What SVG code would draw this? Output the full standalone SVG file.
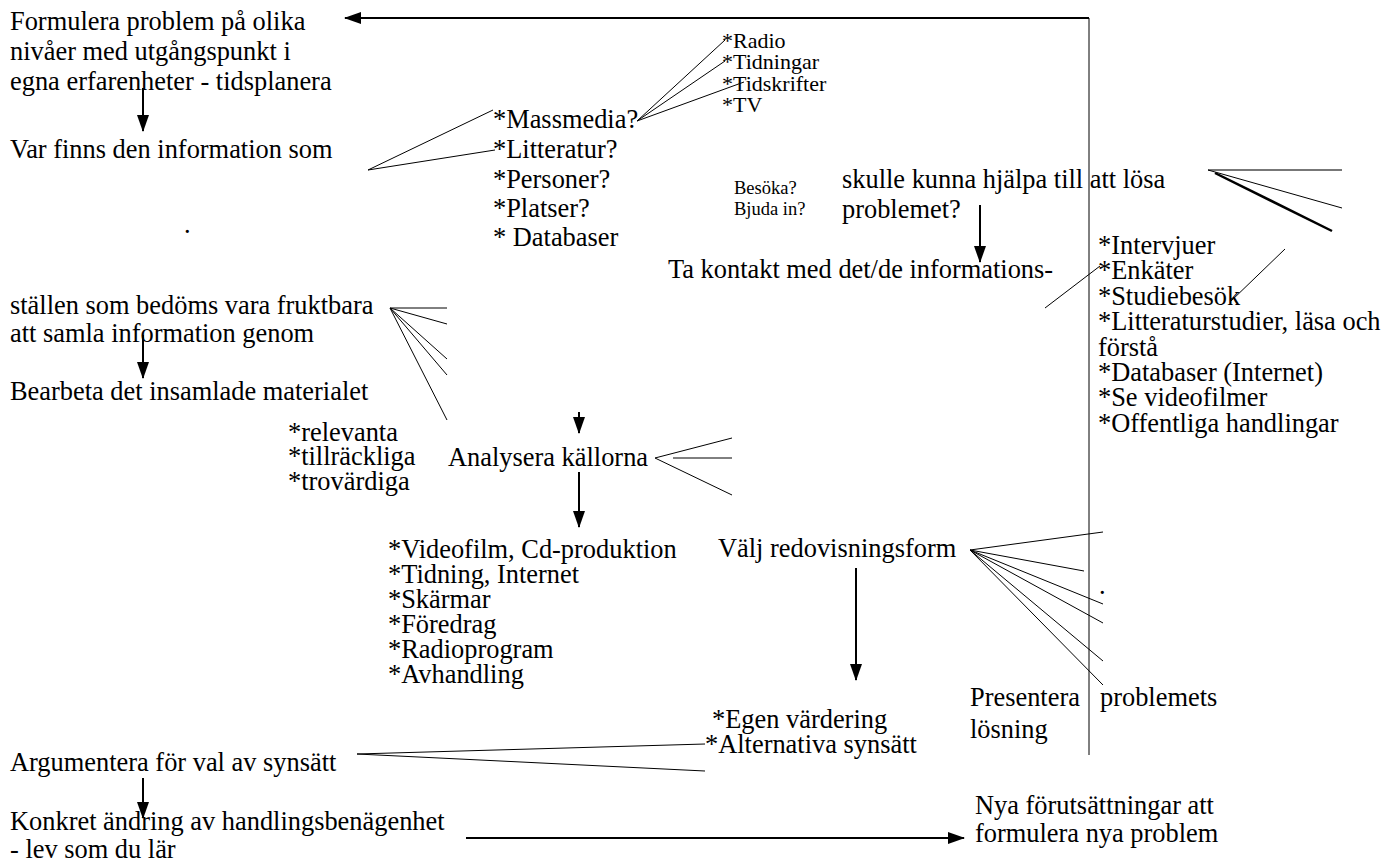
<svg xmlns="http://www.w3.org/2000/svg" width="1388" height="864" viewBox="0 0 1388 864" font-family="'Liberation Serif', 'Times New Roman', serif">
<style>
text{font-family:"Liberation Serif","Times New Roman",serif;fill:#000}
.m{font-size:26.4px}
.s{font-size:22px}
.xs{font-size:18.5px}
.ln{stroke:#000;stroke-width:1;fill:none}
.ar{stroke:#000;stroke-width:2;fill:none}
.thk{stroke:#000;stroke-width:2.5;fill:none}
.gr{stroke:#777;stroke-width:2;fill:none}
</style>
<defs>
<marker id="ah" viewBox="0 0 17 12" refX="16" refY="6" markerWidth="17" markerHeight="12" orient="auto" markerUnits="userSpaceOnUse"><path d="M0,0 L17,6 L0,12 z" fill="#000"/></marker>
</defs>
<rect width="1388" height="864" fill="#fff"/>
<g id="connectors">
<path class="ar" d="M1089,18 H345" marker-end="url(#ah)"/>
<path class="ln" d="M1089,18 V755"/>
<path class="ar" d="M143,88 V131" marker-end="url(#ah)"/>
<path class="ln" d="M368,170 L493,110 M368,170 L495,150"/>
<path class="ln" d="M637,121 L725,40 M637,121 L725,61 M637,121 L744,82"/>
<path class="ar" d="M980,205 V262" marker-end="url(#ah)"/>
<path class="ln" d="M1045,308 L1100,266 M1230,302 L1285,249"/>
<path class="gr" d="M1208,170 H1342"/>
<path class="ln" d="M1208,170 L1342,208"/>
<path class="thk" d="M1215,173 L1332,231"/>
<path class="ar" d="M143,335 V378" marker-end="url(#ah)"/>
<path class="ln" d="M390,308 L447,308 M390,308 L447,324 M390,308 L447,359 M390,308 L447,375 M390,308 L447,420"/>
<path class="ar" d="M579,412 V433" marker-end="url(#ah)"/>
<path class="ar" d="M579,472 V527" marker-end="url(#ah)"/>
<path class="ln" d="M655,458 L732,438 M673,458 H732 M655,458 L732,495"/>
<path class="ln" d="M970,550 L1103,532 M970,550 L1084,571 M970,550 L1103,604 M970,550 L1103,623 M970,550 L1103,661 M970,550 L1103,685"/>
<path class="ar" d="M856,568 V680" marker-end="url(#ah)"/>
<path class="ln" d="M357,754 L705,744 M357,754 L705,771"/>
<path class="ar" d="M143,778 V818" marker-end="url(#ah)"/>
<path class="ar" d="M466,838 H964" marker-end="url(#ah)"/>
</g>
<g id="n-formulera" class="m"><text x="10" y="30">Formulera problem på olika</text><text x="10" y="60">nivåer med utgångspunkt i</text><text x="10" y="90">egna erfarenheter - tidsplanera</text></g>
<g id="n-varfinns" class="m"><text x="10" y="158">Var finns den information som</text></g>
<g id="n-dot1" class="m"><text x="184" y="233">.</text></g>
<g id="n-kallor" class="m"><text x="493" y="128">*Massmedia?</text><text x="493" y="158">*Litteratur?</text><text x="493" y="188">*Personer?</text><text x="493" y="217">*Platser?</text><text x="493" y="246">* Databaser</text></g>
<g id="n-massmedia" class="s"><text x="722" y="48">*Radio</text><text x="722" y="69">*Tidningar</text><text x="722" y="91">*Tidskrifter</text><text x="722" y="112">*TV</text></g>
<g id="n-besoka" class="xs"><text x="734" y="194">Besöka?</text><text x="734" y="215">Bjuda in?</text></g>
<g id="n-skulle" class="m"><text x="842" y="188">skulle kunna hjälpa till att lösa</text><text x="842" y="218">problemet?</text></g>
<g id="n-kontakt" class="m"><text x="668" y="278">Ta kontakt med det/de informations-</text></g>
<g id="n-metoder" class="m"><text x="1098" y="254">*Intervjuer</text><text x="1098" y="279">*Enkäter</text><text x="1098" y="305">*Studiebesök</text><text x="1098" y="330">*Litteraturstudier, läsa och</text><text x="1098" y="356">förstå</text><text x="1098" y="381">*Databaser (Internet)</text><text x="1098" y="406">*Se videofilmer</text><text x="1098" y="432">*Offentliga handlingar</text></g>
<g id="n-stallen" class="m"><text x="10" y="314">ställen som bedöms vara fruktbara</text><text x="10" y="342">att samla information genom</text></g>
<g id="n-bearbeta" class="m"><text x="10" y="400">Bearbeta det insamlade materialet</text></g>
<g id="n-kriterier" class="m"><text x="288" y="441">*relevanta</text><text x="288" y="465">*tillräckliga</text><text x="288" y="490">*trovärdiga</text></g>
<g id="n-analysera" class="m"><text x="448" y="466">Analysera källorna</text></g>
<g id="n-former" class="m"><text x="388" y="558">*Videofilm, Cd-produktion</text><text x="388" y="583">*Tidning, Internet</text><text x="388" y="608">*Skärmar</text><text x="388" y="633">*Föredrag</text><text x="388" y="658">*Radioprogram</text><text x="388" y="683">*Avhandling</text></g>
<g id="n-valj" class="m"><text x="718" y="557">Välj redovisningsform</text></g>
<g id="n-dot2" class="m"><text x="1099" y="594">.</text></g>
<g id="n-presentera" class="m"><text x="970" y="706">Presentera</text><text x="970" y="738">lösning</text><text x="1100" y="706">problemets</text></g>
<g id="n-vardering" class="m"><text x="712" y="728">*Egen värdering</text><text x="705" y="753">*Alternativa synsätt</text></g>
<g id="n-argumentera" class="m"><text x="10" y="771">Argumentera för val av synsätt</text></g>
<g id="n-konkret" class="m"><text x="10" y="830">Konkret ändring av handlingsbenägenhet</text><text x="10" y="858">- lev som du lär</text></g>
<g id="n-nya" class="m"><text x="975" y="814">Nya förutsättningar att</text><text x="975" y="842">formulera nya problem</text></g>
</svg>
